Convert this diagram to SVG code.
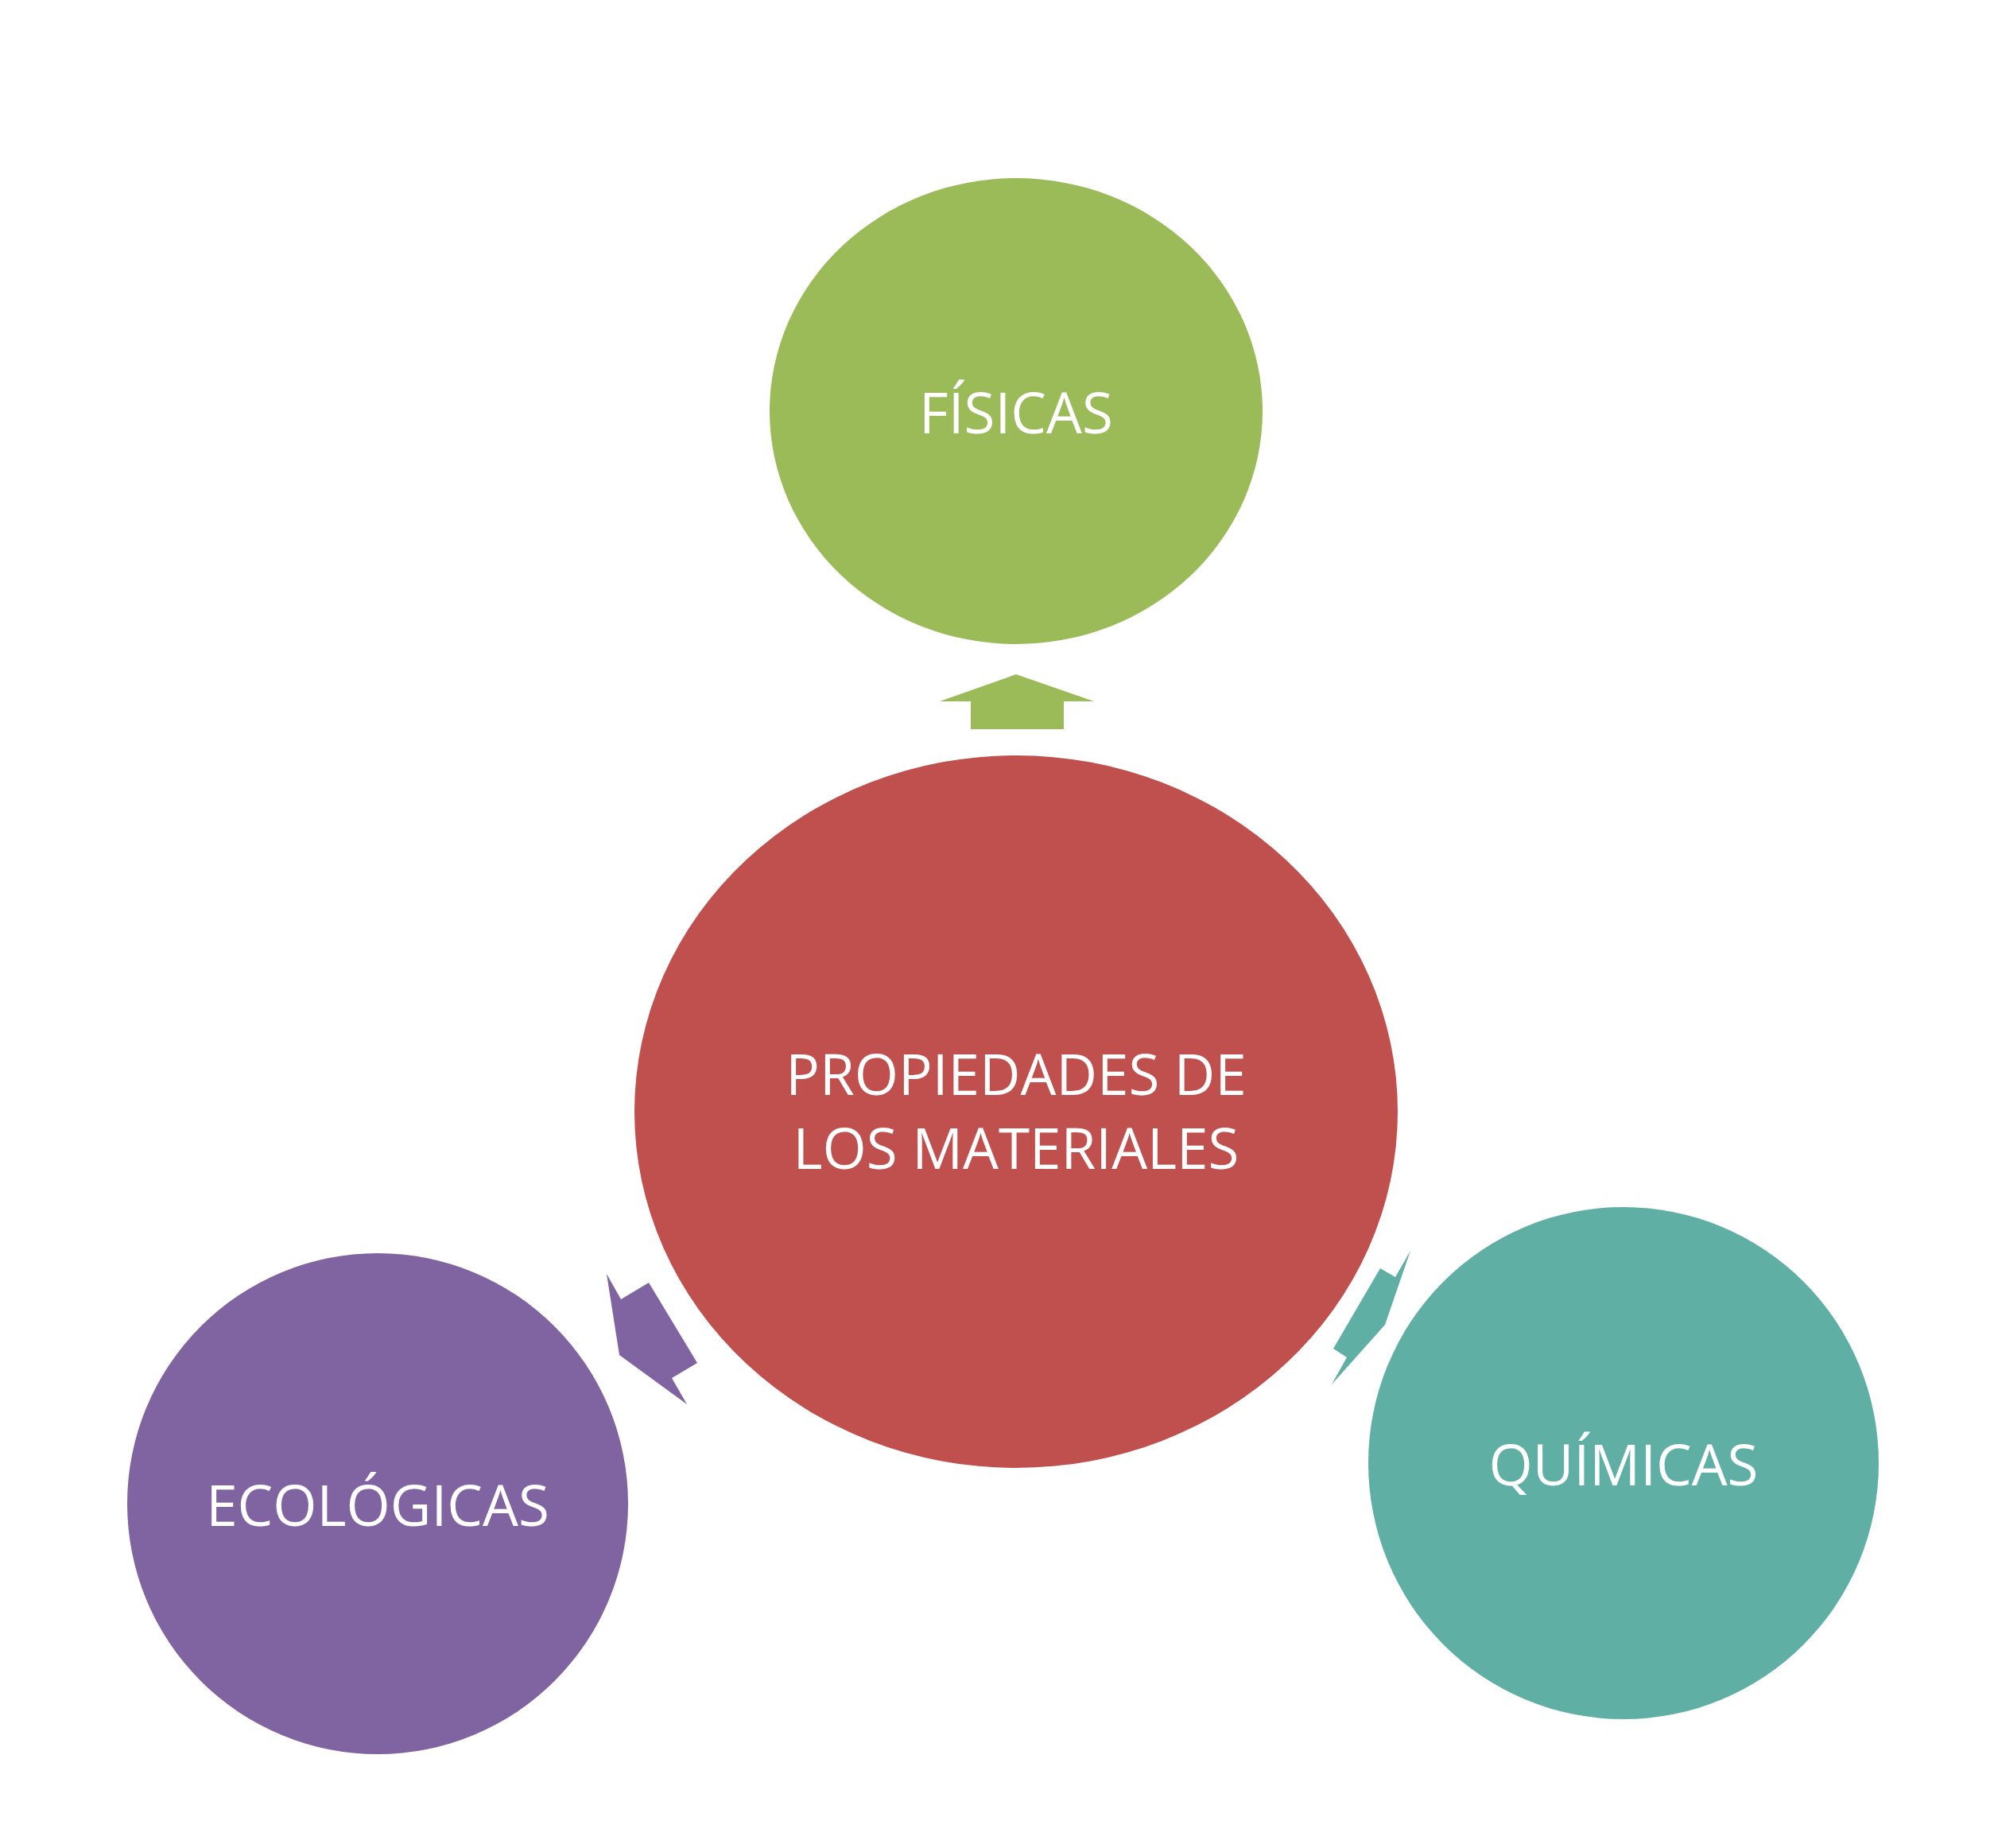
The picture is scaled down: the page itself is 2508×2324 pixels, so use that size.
<svg xmlns="http://www.w3.org/2000/svg" width="2508" height="2324" viewBox="0 0 2508 2324">
<style>
text{font-family:"Open Sans","Liberation Sans",sans-serif;fill:#fff;font-size:71px;text-anchor:middle;dominant-baseline:central}
</style>
<rect width="2508" height="2324" fill="#fff"/>
<g id="connectors">
<polygon fill="#9BBB59" points="1182,882 1278,848 1376,882 1338,882 1338,917 1221,917 1221,882"/>
<polygon fill="#60AFA5" points="1774,1573 1742,1666 1675,1741 1694,1707 1677,1696 1736,1595 1755,1606"/>
<polygon fill="#8064A2" points="763,1602 781,1634 816,1613 877,1714 845,1733 864,1766 779,1704"/>
</g>
<g id="fisicas"><ellipse cx="1278" cy="517" rx="310" ry="293" fill="#9BBB59"/><text x="1278" y="517">FÍSICAS</text></g>
<g id="center"><ellipse cx="1278" cy="1398" rx="480" ry="448" fill="#C0504D"/><text x="1278" y="1349">PROPIEDADES DE</text><text x="1278" y="1442">LOS MATERIALES</text></g>
<g id="ecologicas"><circle cx="475" cy="1891" r="315" fill="#8064A2"/><text x="475" y="1891">ECOLÓGICAS</text></g>
<g id="quimicas"><ellipse cx="2042" cy="1840" rx="321" ry="322" fill="#60AFA5"/><text x="2042" y="1840">QUÍMICAS</text></g>
</svg>
